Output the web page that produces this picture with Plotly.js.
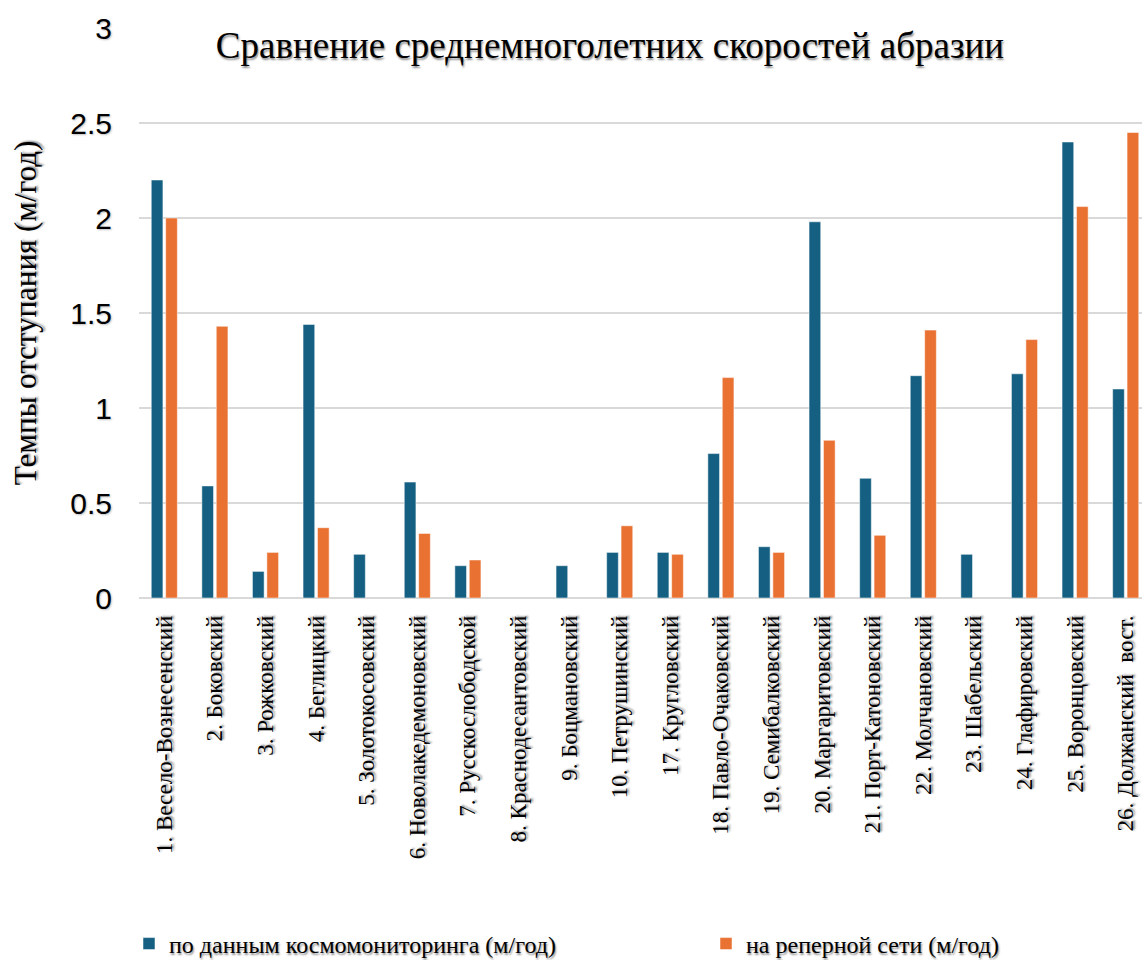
<!DOCTYPE html>
<html>
<head>
<meta charset="utf-8">
<script src="https://cdn.plot.ly/plotly-3.0.1.min.js"></script>
<style>
  html, body { margin: 0; padding: 0; background: #ffffff; overflow: hidden; }
  #chart { width: 1160px; height: 960px; }
</style>
</head>
<body>
<div id="chart"></div>
<script>
// Участки побережья
const sites = [
  "1. Весело-Вознесенский", "2. Боковский", "3. Рожковский", "4. Беглицкий",
  "5. Золотокосовский", "6. Новолакедемоновский", "7. Русскослободской",
  "8. Краснодесантовский", "9. Боцмановский", "10. Петрушинский",
  "17. Кругловский", "18. Павло-Очаковский", "19. Семибалковский",
  "20. Маргаритовский", "21. Порт-Катоновский", "22. Молчановский",
  "23. Шабельский", "24. Глафировский", "25. Воронцовский", "26. Должанский  вост."
];

// Скорость отступания по данным космомониторинга, м/год
const spaceRates = [2.20, 0.59, 0.14, 1.44, 0.23, 0.61, 0.17, null, 0.17, 0.24,
                    0.24, 0.76, 0.27, 1.98, 0.63, 1.17, 0.23, 1.18, 2.40, 1.10];

// Скорость отступания на реперной сети, м/год
const benchRates = [2.00, 1.43, 0.24, 0.37, null, 0.34, 0.20, null, null, 0.38,
                    0.23, 1.16, 0.24, 0.83, 0.33, 1.41, null, 1.36, 2.06, 2.45];

const seriesNames = ["по данным космомониторинга (м/год)", "на реперной сети (м/год)"];
const yTicks = [0, 0.5, 1, 1.5, 2, 2.5, 3];
const yTickText = ["0", "0.5", "1", "1.5", "2", "2.5", "3"];

const serif = "Liberation Serif, Times New Roman, serif";
const sans = "Liberation Sans, Arial, sans-serif";
const shadow = "1px 2px 2px rgba(0,0,0,0.45)";
const legendFont = { family: serif, size: 24, color: "#000000", shadow: shadow };

const traces = [
  {
    type: "bar", x: sites, y: spaceRates, name: seriesNames[0], legend: "legend",
    marker: { color: "#156082", line: { color: "rgba(255,255,255,0.5)", width: 1 } }
  },
  {
    type: "bar", x: sites, y: benchRates, name: seriesNames[1], legend: "legend2",
    marker: { color: "#E97132", line: { color: "rgba(255,255,255,0.5)", width: 1 } }
  }
];

const layout = {
  width: 1160, height: 960,
  margin: { l: 139, r: 9, t: 28, b: 362 },
  paper_bgcolor: "#ffffff", plot_bgcolor: "#ffffff",
  barmode: "group", bargap: 0.43, bargroupgap: 0.19,
  title: {
    text: "Сравнение среднемноголетних скоростей абразии",
    font: { family: serif, size: 37, color: "#000000", shadow: shadow },
    x: 610 / 1160, xref: "container", xanchor: "center",
    y: 1 - 45 / 960, yref: "container", yanchor: "middle"
  },
  xaxis: {
    type: "category", tickangle: -90, showgrid: false, ticks: "",
    ticklabelstandoff: 12,
    tickfont: { family: serif, size: 23, color: "#000000", shadow: shadow },
    showline: false, zeroline: false
  },
  yaxis: {
    range: [0, 3], tickvals: yTicks, ticktext: yTickText,
    showgrid: true, gridcolor: "#d9d9d9", gridwidth: 2,
    zeroline: true, zerolinecolor: "#d9d9d9", zerolinewidth: 2,
    ticks: "", ticklabelstandoff: 26,
    tickfont: { family: sans, size: 30, color: "#000000", shadow: "1px 1px 2px rgba(0,0,0,0.25)" },
    title: {
      text: "Темпы отступания (м/год)", standoff: 24,
      font: { family: serif, size: 31, color: "#000000", shadow: shadow }
    }
  },
  showlegend: true,
  legend: {
    orientation: "h", xref: "container", yref: "container",
    x: 129 / 1160, xanchor: "left", y: 1 - 944 / 960, yanchor: "middle",
    font: legendFont, bgcolor: "rgba(0,0,0,0)"
  },
  legend2: {
    orientation: "h", xref: "container", yref: "container",
    x: 706 / 1160, xanchor: "left", y: 1 - 944 / 960, yanchor: "middle",
    font: legendFont, bgcolor: "rgba(0,0,0,0)"
  },
  hovermode: false
};

Plotly.newPlot("chart", traces, layout, { displayModeBar: false, staticPlot: true });
</script>
</body>
</html>
